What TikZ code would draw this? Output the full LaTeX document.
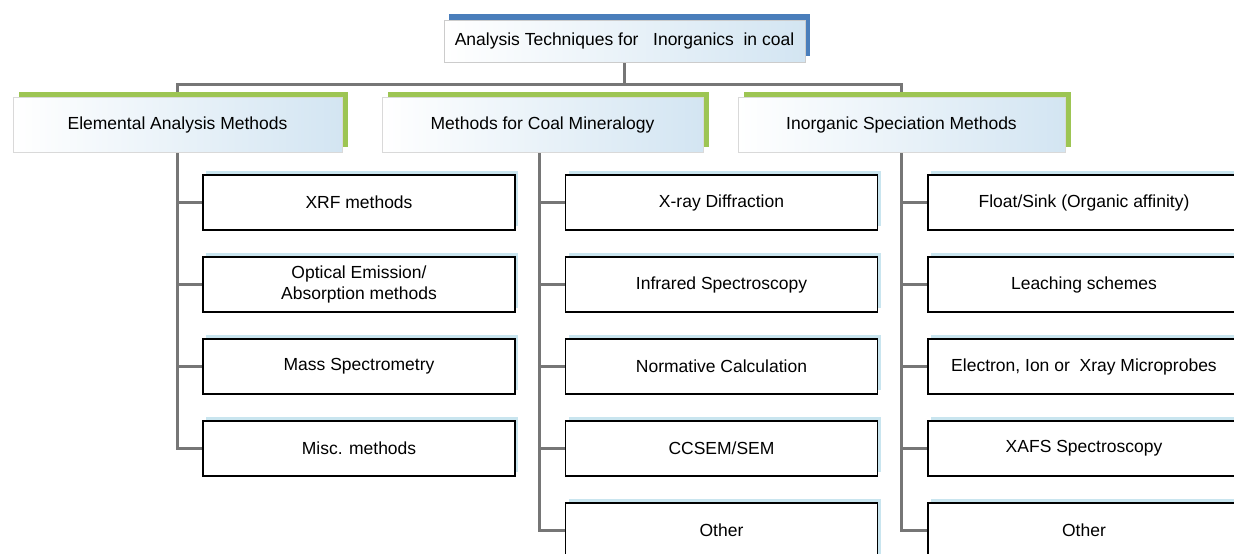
\documentclass[tikz,border=0pt]{standalone}
\usepackage{fontspec}
\setmainfont{Liberation Sans}
\usetikzlibrary{shadows,backgrounds}
\definecolor{barblue}{HTML}{4A7EBB}
\definecolor{leafgreen}{HTML}{9DC553}
\definecolor{paleblue}{HTML}{C9E5EF}
\definecolor{tintblue}{HTML}{D3E5F2}
\definecolor{linkgray}{HTML}{767676}

\begin{document}
\begin{tikzpicture}[
    x=1pt, y=-1pt,
    font=\fontsize{17.5}{21}\selectfont,
    rootbox/.style={draw=gray!40, line width=0.8pt, left color=white,
                    right color=tintblue, minimum width=361pt, minimum height=42pt,
                    inner sep=1pt,
                    general shadow={fill=barblue, shadow xshift=5pt, shadow yshift=6pt}},
    groupbox/.style={draw=gray!30, line width=0.8pt, left color=white,
                     right color=tintblue, minimum height=55pt, inner sep=1pt,
                     general shadow={fill=leafgreen, shadow xshift=6pt, shadow yshift=5pt}},
    leaf/.style={draw=black, line width=1.4pt, fill=white, minimum width=312pt,
                 minimum height=55pt, inner sep=1pt, align=center,
                 general shadow={fill=paleblue, shadow xshift=3pt, shadow yshift=4pt}},
    link/.style={linkgray, line width=2.6pt},
]
\useasboundingbox (0,0) rectangle (1234,554);

% =====================================================================
% root and the three method groups
% =====================================================================
\node[rootbox] (root) at (624.5,41)
    {Analysis Techniques for\ \ \ Inorganics\ \ in coal};

\node[groupbox, minimum width=329pt] (elem)  at (177.5,124.5) {Elemental Analysis Methods};
\node[groupbox, minimum width=321pt] (miner) at (542.5,124.5) {Methods for Coal Mineralogy};
\node[groupbox, minimum width=327pt] (spec)  at (901.5,124.5) {Inorganic Speciation Methods};

% =====================================================================
% leaf methods, one column per group
% =====================================================================
\foreach \t [count=\n] in {XRF methods, {Optical Emission/\\Absorption methods},
                           Mass Spectrometry, Misc. methods} {
    \node[leaf] (e\n) at (359,120.5+82*\n) {\t};
}
\foreach \t [count=\n] in {X-ray Diffraction, Infrared Spectroscopy,
                           Normative Calculation, CCSEM/SEM, Other} {
    \node[leaf] (m\n) at (721.5,120.5+82*\n) {\t};
}
\foreach \t [count=\n] in {Float/Sink (Organic affinity), Leaching schemes,
                           {Electron, Ion or\ \ Xray Microprobes},
                           XAFS Spectroscopy, Other} {
    \node[leaf] (s\n) at (1084,120.5+82*\n) {\t};
}

% =====================================================================
% connectors (behind the boxes)
% =====================================================================
\begin{scope}[on background layer]
\coordinate (bar) at ([yshift=12pt]miner.north);
\coordinate (mtrunk) at ([xshift=-3pt]miner.north);
\draw[link] (root.south) -- (root.south |- bar);
\draw[link] (elem.north) |- ([yshift=12pt]spec.north) -- (spec.north);

\draw[link] (elem.north) |- (e4.west);
\draw[link] (mtrunk) |- (m5.west);
\draw[link] (spec.north) |- (s5.west);

\foreach \n in {1,2,3} {
    \draw[link] (e\n.west) -- (e\n.west -| elem.north);
}
\foreach \n in {1,2,3,4} {
    \draw[link] (m\n.west) -- (m\n.west -| mtrunk);
    \draw[link] (s\n.west) -- (s\n.west -| spec.north);
}
\end{scope}

\end{tikzpicture}
\end{document}
